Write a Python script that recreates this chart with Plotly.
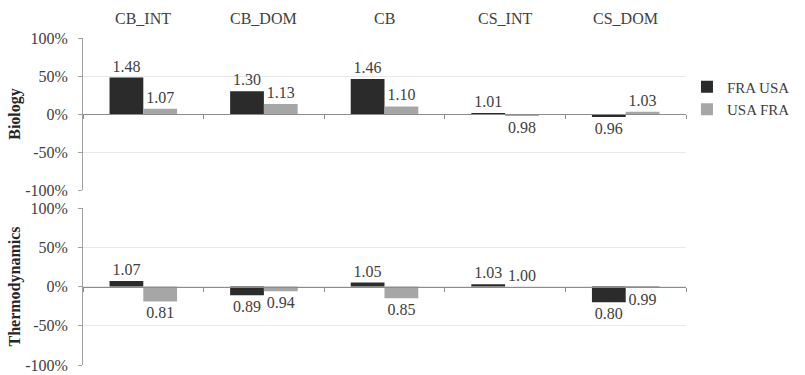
import plotly.graph_objects as go

categories = ["CB_INT", "CB_DOM", "CB", "CS_INT", "CS_DOM"]
bio_fra_usa = [1.48, 1.30, 1.46, 1.01, 0.96]
bio_usa_fra = [1.07, 1.13, 1.10, 0.98, 1.03]
thermo_fra_usa = [1.07, 0.89, 1.05, 1.03, 0.80]
thermo_usa_fra = [0.81, 0.94, 0.85, 1.00, 0.99]
series_names = ["FRA USA", "USA FRA"]
panel_titles = ["Biology", "Thermodynamics"]
y_tick_vals = [-1.0, -0.5, 0.0, 0.5, 1.0]
y_tick_text = ["-100%", "-50%", "0%", "50%", "100%"]

DARK = "#2b2b2b"
GRAY = "#a6a6a6"
TXT = "#404040"
SERIF = "Liberation Serif, Times New Roman, serif"

W, H = 805, 375
ML, MR, MT, MB = 83, 100, 38, 10
plot_h = H - MT - MB

fig = go.Figure()

panels = [
    (bio_fra_usa, bio_usa_fra, "x", "y", True),
    (thermo_fra_usa, thermo_usa_fra, "x2", "y2", False),
]
for a, b, xa, ya, show in panels:
    for vals, name, col in [(a, series_names[0], DARK), (b, series_names[1], GRAY)]:
        fig.add_trace(go.Bar(
            x=categories, y=[v - 1 for v in vals], name=name,
            marker=dict(color=col, line=dict(width=0)),
            text=[f"{v:.2f}" for v in vals], textposition="outside",
            textangle=0, constraintext="none", cliponaxis=False,
            textfont=dict(family=SERIF, size=16, color=TXT),
            xaxis=xa, yaxis=ya, showlegend=show,
            hoverinfo="skip",
        ))

row1 = [(H - MB - 190) / plot_h, 1.0]
row2 = [0.0, (H - MB - 208) / plot_h]
axis_common = dict(
    type="category", showline=True, linecolor="#8c8c8c", linewidth=1,
    ticks="outside", tickson="boundaries", ticklen=4, tickcolor="#8c8c8c",
    showticklabels=False, showgrid=False, zeroline=False, domain=[0, 1],
    anchor="free", automargin=False,
)
yaxis_common = dict(
    range=[-1, 1], tickmode="array", tickvals=y_tick_vals, ticktext=y_tick_text,
    showgrid=True, gridcolor="#e9e9e9", gridwidth=1,
    showline=True, linecolor="#a0a0a0", linewidth=1,
    ticks="outside", ticklen=4, tickcolor="#a0a0a0",
    ticklabelstandoff=7, automargin=False, ticklabeloverflow="allow",
    zeroline=False,
    tickfont=dict(family=SERIF, size=16, color=TXT),
    title_font=dict(family=SERIF, size=16, color="#262626"),
    title_standoff=0,
)

fig.update_layout(
    width=W, height=H,
    margin=dict(l=ML, r=MR, t=MT, b=MB),
    paper_bgcolor="white", plot_bgcolor="white",
    barmode="group", bargap=0.44, bargroupgap=0,
    xaxis=dict(axis_common, position=(row1[0] + row1[1]) / 2),
    xaxis2=dict(axis_common, position=(row2[0] + row2[1]) / 2, matches="x"),
    yaxis=dict(yaxis_common, domain=row1, anchor="x",
               title_text="<b>" + panel_titles[0] + "</b>"),
    yaxis2=dict(yaxis_common, domain=row2, anchor="x2",
                title_text="<b>" + panel_titles[1] + "</b>"),
    legend=dict(x=(737 - 31 - ML) / (W - ML - MR), y=(H - MB - 98) / plot_h,
                xanchor="left", yanchor="middle",
                font=dict(family=SERIF, size=15, color=TXT),
                itemwidth=30, tracegroupgap=0, bgcolor="rgba(0,0,0,0)"),
    showlegend=True,
)

for c in categories:
    fig.add_annotation(x=c, xref="x", y=1 + 19 / plot_h, yref="paper",
                       yanchor="middle", text=c, showarrow=False,
                       font=dict(family=SERIF, size=16, color=TXT))

fig.write_html("out.html",
               config={"displayModeBar": False},
               post_script="document.body.style.margin='0px';document.body.style.overflow='hidden';")
